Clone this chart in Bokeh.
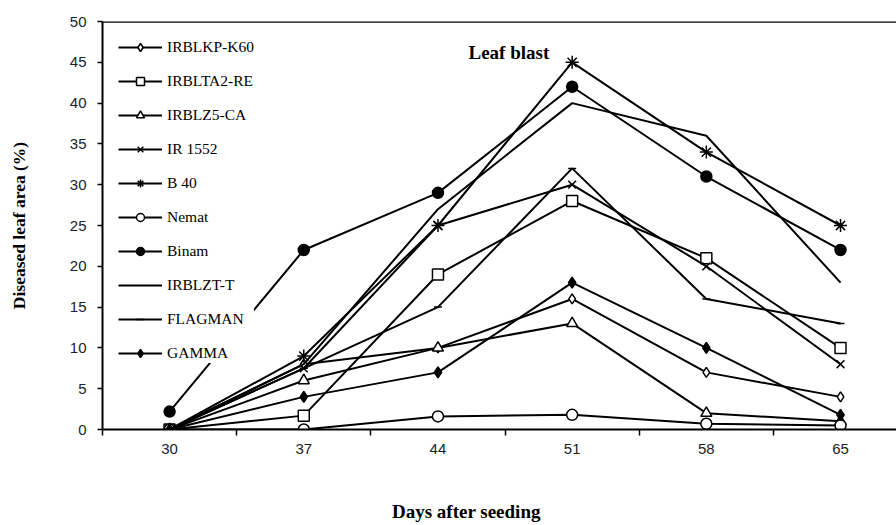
from bokeh.plotting import figure
from bokeh.models import (FixedTicker, SingleIntervalTicker, Legend, LegendItem, Label,
                          Span, Range1d, Div)
from bokeh.layouts import column
from bokeh.embed import file_html
from bokeh.resources import INLINE

days = [30, 37, 44, 51, 58, 65]

irblkp_k60 = [0, 8, 10, 16, 7, 4]
irblta2_re = [0, 1.7, 19, 28, 21, 10]
irblz5_ca = [0, 6, 10, 13, 2, 1]
ir_1552 = [0, 7.5, 25, 30, 20, 8]
b_40 = [0, 9, 25, 45, 34, 25]
nemat = [0, 0, 1.6, 1.8, 0.7, 0.5]
binam = [2.2, 22, 29, 42, 31, 22]
irblzt_t = [0, 8, 27, 40, 36, 18]
flagman = [0, 7.5, 15, 32, 16, 13]
gamma = [0, 4, 7, 18, 10, 1.8]

names = ["IRBLKP-K60", "IRBLTA2-RE", "IRBLZ5-CA", "IR 1552", "B 40",
         "Nemat", "Binam", "IRBLZT-T", "FLAGMAN", "GAMMA"]
values = [irblkp_k60, irblta2_re, irblz5_ca, ir_1552, b_40,
          nemat, binam, irblzt_t, flagman, gamma]
# marker, size, fill
styles = [("diamond", 10, "white"), ("square", 11, "white"), ("triangle", 11, "white"),
          ("x", 11, "white"), ("asterisk", 13, "white"), ("circle", 11, "white"),
          ("circle", 11, "black"), (None, 0, None), ("dash", 8, "black"),
          ("diamond", 11, "black")]

SERIF = "Liberation Serif"
SANS = "Liberation Sans"

p = figure(width=896, height=488, output_backend="svg", toolbar_location=None,
           x_range=Range1d(26.5, 67.92), y_range=Range1d(0, 50),
           min_border_left=102, min_border_right=0, min_border_top=21, min_border_bottom=59,
           outline_line_color=None, background_fill_color="white", border_fill_color="white")
p.xgrid.visible = False
p.ygrid.visible = False

xa = p.xaxis[0]
xa.ticker = FixedTicker(ticks=days, minor_ticks=[26.5 + 7 * i for i in range(7)])
xa.major_tick_out = 0
xa.major_tick_in = 0
xa.minor_tick_out = 6
xa.minor_tick_in = 0
xa.minor_tick_line_width = 1.5
xa.axis_line_width = 2
xa.major_label_text_font = SANS
xa.major_label_text_font_size = "15px"
xa.major_label_text_color = "#222222"
xa.major_label_standoff = 8

ya = p.yaxis[0]
ya.ticker = SingleIntervalTicker(interval=5)
ya.minor_tick_out = 0
ya.minor_tick_in = 0
ya.major_tick_out = 5
ya.major_tick_in = 0
ya.major_tick_line_width = 1.5
ya.axis_line_width = 2
ya.major_label_text_font = SANS
ya.major_label_text_font_size = "15px"
ya.major_label_text_color = "#222222"
ya.major_label_standoff = 11
ya.axis_label = "Diseased leaf area (%)"
ya.axis_label_text_font = SERIF
ya.axis_label_text_font_size = "17.5px"
ya.axis_label_text_font_style = "bold"
ya.axis_label_text_color = "black"
ya.axis_label_standoff = 38

p.add_layout(Span(location=50, dimension="width", line_color="black", line_width=2.5))

items = []
for name, vals, (marker, size, fill) in zip(names, values, styles):
    rs = []
    l = p.line(days, vals, line_color="black", line_width=2)
    rs.append(l)
    if marker is not None:
        s = p.scatter(days, vals, marker=marker, size=size, fill_color=fill,
                      line_color="black", line_width=1.5)
        rs.append(s)
    items.append(LegendItem(label=name, renderers=rs))

legend = Legend(items=items, location="top_left", border_line_color=None,
                background_fill_color="white", background_fill_alpha=1.0,
                glyph_width=44, glyph_height=20, label_height=20, spacing=14,
                padding=10, margin=16, label_standoff=5,
                label_text_font=SERIF, label_text_font_size="15.5px", label_text_color="black")
p.add_layout(legend)

p.add_layout(Label(x=47.7, y=46.2, text="Leaf blast", text_align="center",
                   text_baseline="middle", text_font=SERIF, text_font_size="19px",
                   text_font_style="bold", text_color="black"))

xlabel = Div(text="Days after seeding", width=896, height=37,
             styles={"padding-left": "387px", "font-family": "Liberation Serif",
                     "font-size": "19px", "font-weight": "bold", "line-height": "37px",
                     "color": "black", "white-space": "nowrap", "box-sizing": "border-box"})

layout = column(p, xlabel, spacing=0)

open("out.html", "w").write(file_html(layout, INLINE))
